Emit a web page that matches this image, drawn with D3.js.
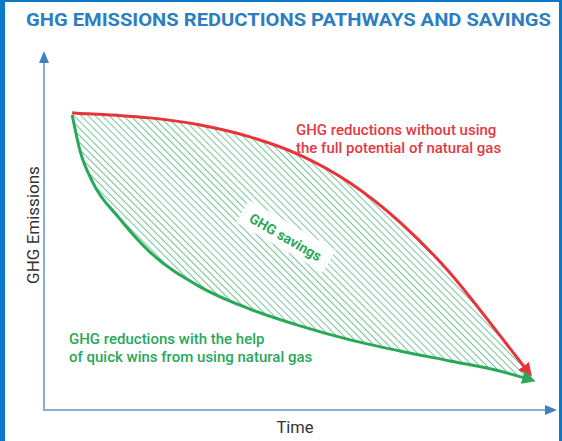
<!DOCTYPE html>
<html><head><meta charset="utf-8">
<script src="https://cdn.jsdelivr.net/npm/d3@7"></script>
<style>html,body{margin:0;padding:0;background:#fff;}svg{display:block;}</style>
</head><body>
<script>
// Data (conceptual)
const time = [5.5, 7, 9.6, 14.5, 20.7, 30.5, 40.2, 50, 59.8, 69.5, 79.3, 89, 94];
const withoutGas = [83, 82.8, 82.7, 82.3, 81.6, 79.6, 76.3, 71.2, 63.4, 52.5, 38.3, 20.9, 11.7];
const withGas = [82.4, 72.6, 63.4, 53.9, 44.1, 34.4, 28.2, 23.5, 19.6, 16.5, 13.7, 10.9, 8.9];
const titleText = "GHG EMISSIONS REDUCTIONS PATHWAYS AND SAVINGS";
const yLabel = "GHG Emissions";
const xLabel = "Time";
const redLabel = ["GHG reductions without using", "the full potential of natural gas"];
const greenLabel = ["GHG reductions with the help", "of quick wins from using natural gas"];
const savingsLabel = "GHG savings";

const W = 562, H = 441;
const svg = d3.select("body").append("svg").attr("width", W).attr("height", H);

const x = d3.scaleLinear().domain([0, 100]).range([44, 556]);
const y = d3.scaleLinear().domain([0, 100]).range([410, 52]);

const defs = svg.append("defs");
const pat = defs.append("pattern").attr("id", "hatch").attr("patternUnits", "userSpaceOnUse")
  .attr("width", 5).attr("height", 5).attr("patternTransform", "rotate(-45)");
pat.append("line").attr("x1", 0).attr("y1", 0).attr("x2", 0).attr("y2", 5)
  .attr("stroke", "#55b482").attr("stroke-width", 1.6);

function marker(id, color) {
  defs.append("marker").attr("id", id).attr("viewBox", "0 0 10 10").attr("refX", 2).attr("refY", 5)
    .attr("markerWidth", 4.5).attr("markerHeight", 4.5).attr("orient", "auto").attr("markerUnits", "strokeWidth")
    .append("path").attr("d", "M0,0 L10,5 L0,10 z").attr("fill", color);
}
marker("arRed", "#e8333a");
marker("arGreen", "#2aa85a");

// background & border
svg.append("rect").attr("width", W).attr("height", H).attr("fill", "#fff");
svg.append("rect").attr("x", 0).attr("y", 0).attr("width", 5).attr("height", H).attr("fill", "#0a78c8");
svg.append("rect").attr("x", 0).attr("y", 0).attr("width", W).attr("height", 2).attr("fill", "#0a78c8");
svg.append("rect").attr("x", 559).attr("y", 0).attr("width", 3).attr("height", H).attr("fill", "#0a78c8");

// title
svg.append("text").attr("x", 26).attr("y", 26).text(titleText)
  .attr("font-family", "Roboto, 'Liberation Sans', sans-serif").attr("font-weight", 700)
  .attr("font-size", 19).attr("fill", "#2b7fc1")
  .attr("textLength", 525).attr("lengthAdjust", "spacingAndGlyphs");

// axes
const axisColor = "#8aaed2";
svg.append("line").attr("x1", x(0)).attr("y1", y(0)).attr("x2", x(0)).attr("y2", 62)
  .attr("stroke", axisColor).attr("stroke-width", 2);
svg.append("line").attr("x1", x(0) - 1).attr("y1", y(0)).attr("x2", 546).attr("y2", y(0))
  .attr("stroke", axisColor).attr("stroke-width", 2);
svg.append("path").attr("d", `M${x(0)},51 L${x(0) + 5},63 L${x(0) - 5},63 Z`).attr("fill", "#3f7fc2");
svg.append("path").attr("d", `M557,${y(0)} L545,${y(0) - 5} L545,${y(0) + 5} Z`).attr("fill", "#3f7fc2");

svg.append("text").attr("transform", `translate(39,${225}) rotate(-90)`).attr("text-anchor", "middle")
  .text(yLabel).attr("font-family", "Roboto, sans-serif").attr("font-size", 17).attr("fill", "#333");
svg.append("text").attr("x", 295).attr("y", 433).attr("text-anchor", "middle")
  .text(xLabel).attr("font-family", "Roboto, sans-serif").attr("font-size", 16.5).attr("fill", "#333");

// savings area
const pts = time.map((t, i) => ({t, r: withoutGas[i], g: withGas[i]}));
const curve = d3.curveMonotoneX;
const area = d3.area().x(d => x(d.t)).y0(d => y(d.g)).y1(d => y(d.r)).curve(curve);
svg.append("path").datum(pts).attr("d", area).attr("fill", "url(#hatch)");

// lines
const lineR = d3.line().x(d => x(d.t)).y(d => y(d.r)).curve(curve);
const lineG = d3.line().x(d => x(d.t)).y(d => y(d.g)).curve(curve);
svg.append("path").datum(pts).attr("d", lineR).attr("fill", "none").attr("stroke", "#e8333a")
  .attr("stroke-width", 3).attr("marker-end", "url(#arRed)");
svg.append("path").datum(pts).attr("d", lineG).attr("fill", "none").attr("stroke", "#2aa85a")
  .attr("stroke-width", 3).attr("marker-end", "url(#arGreen)");

// savings label
const sg = svg.append("g").attr("transform", "translate(285,238) rotate(30)");
sg.append("rect").attr("x", -50).attr("y", -15).attr("width", 100).attr("height", 26).attr("fill", "#fff");
sg.append("text").attr("text-anchor", "middle").attr("y", 4).text(savingsLabel)
  .attr("font-family", "Roboto, sans-serif").attr("font-weight", 700).attr("font-size", 14).attr("fill", "#2aa85a");

// labels
svg.append("g").selectAll("text").data(redLabel).join("text")
  .attr("x", 296).attr("y", (d, i) => 135 + i * 18).text(d => d)
  .attr("font-family", "Roboto, sans-serif").attr("font-weight", 500).attr("font-size", 15).attr("fill", "#e23a42");
svg.append("g").selectAll("text").data(greenLabel).join("text")
  .attr("x", 69).attr("y", (d, i) => 344 + i * 18).text(d => d)
  .attr("font-family", "Roboto, sans-serif").attr("font-weight", 500).attr("font-size", 15).attr("fill", "#2aa85a");
</script>
</body></html>
